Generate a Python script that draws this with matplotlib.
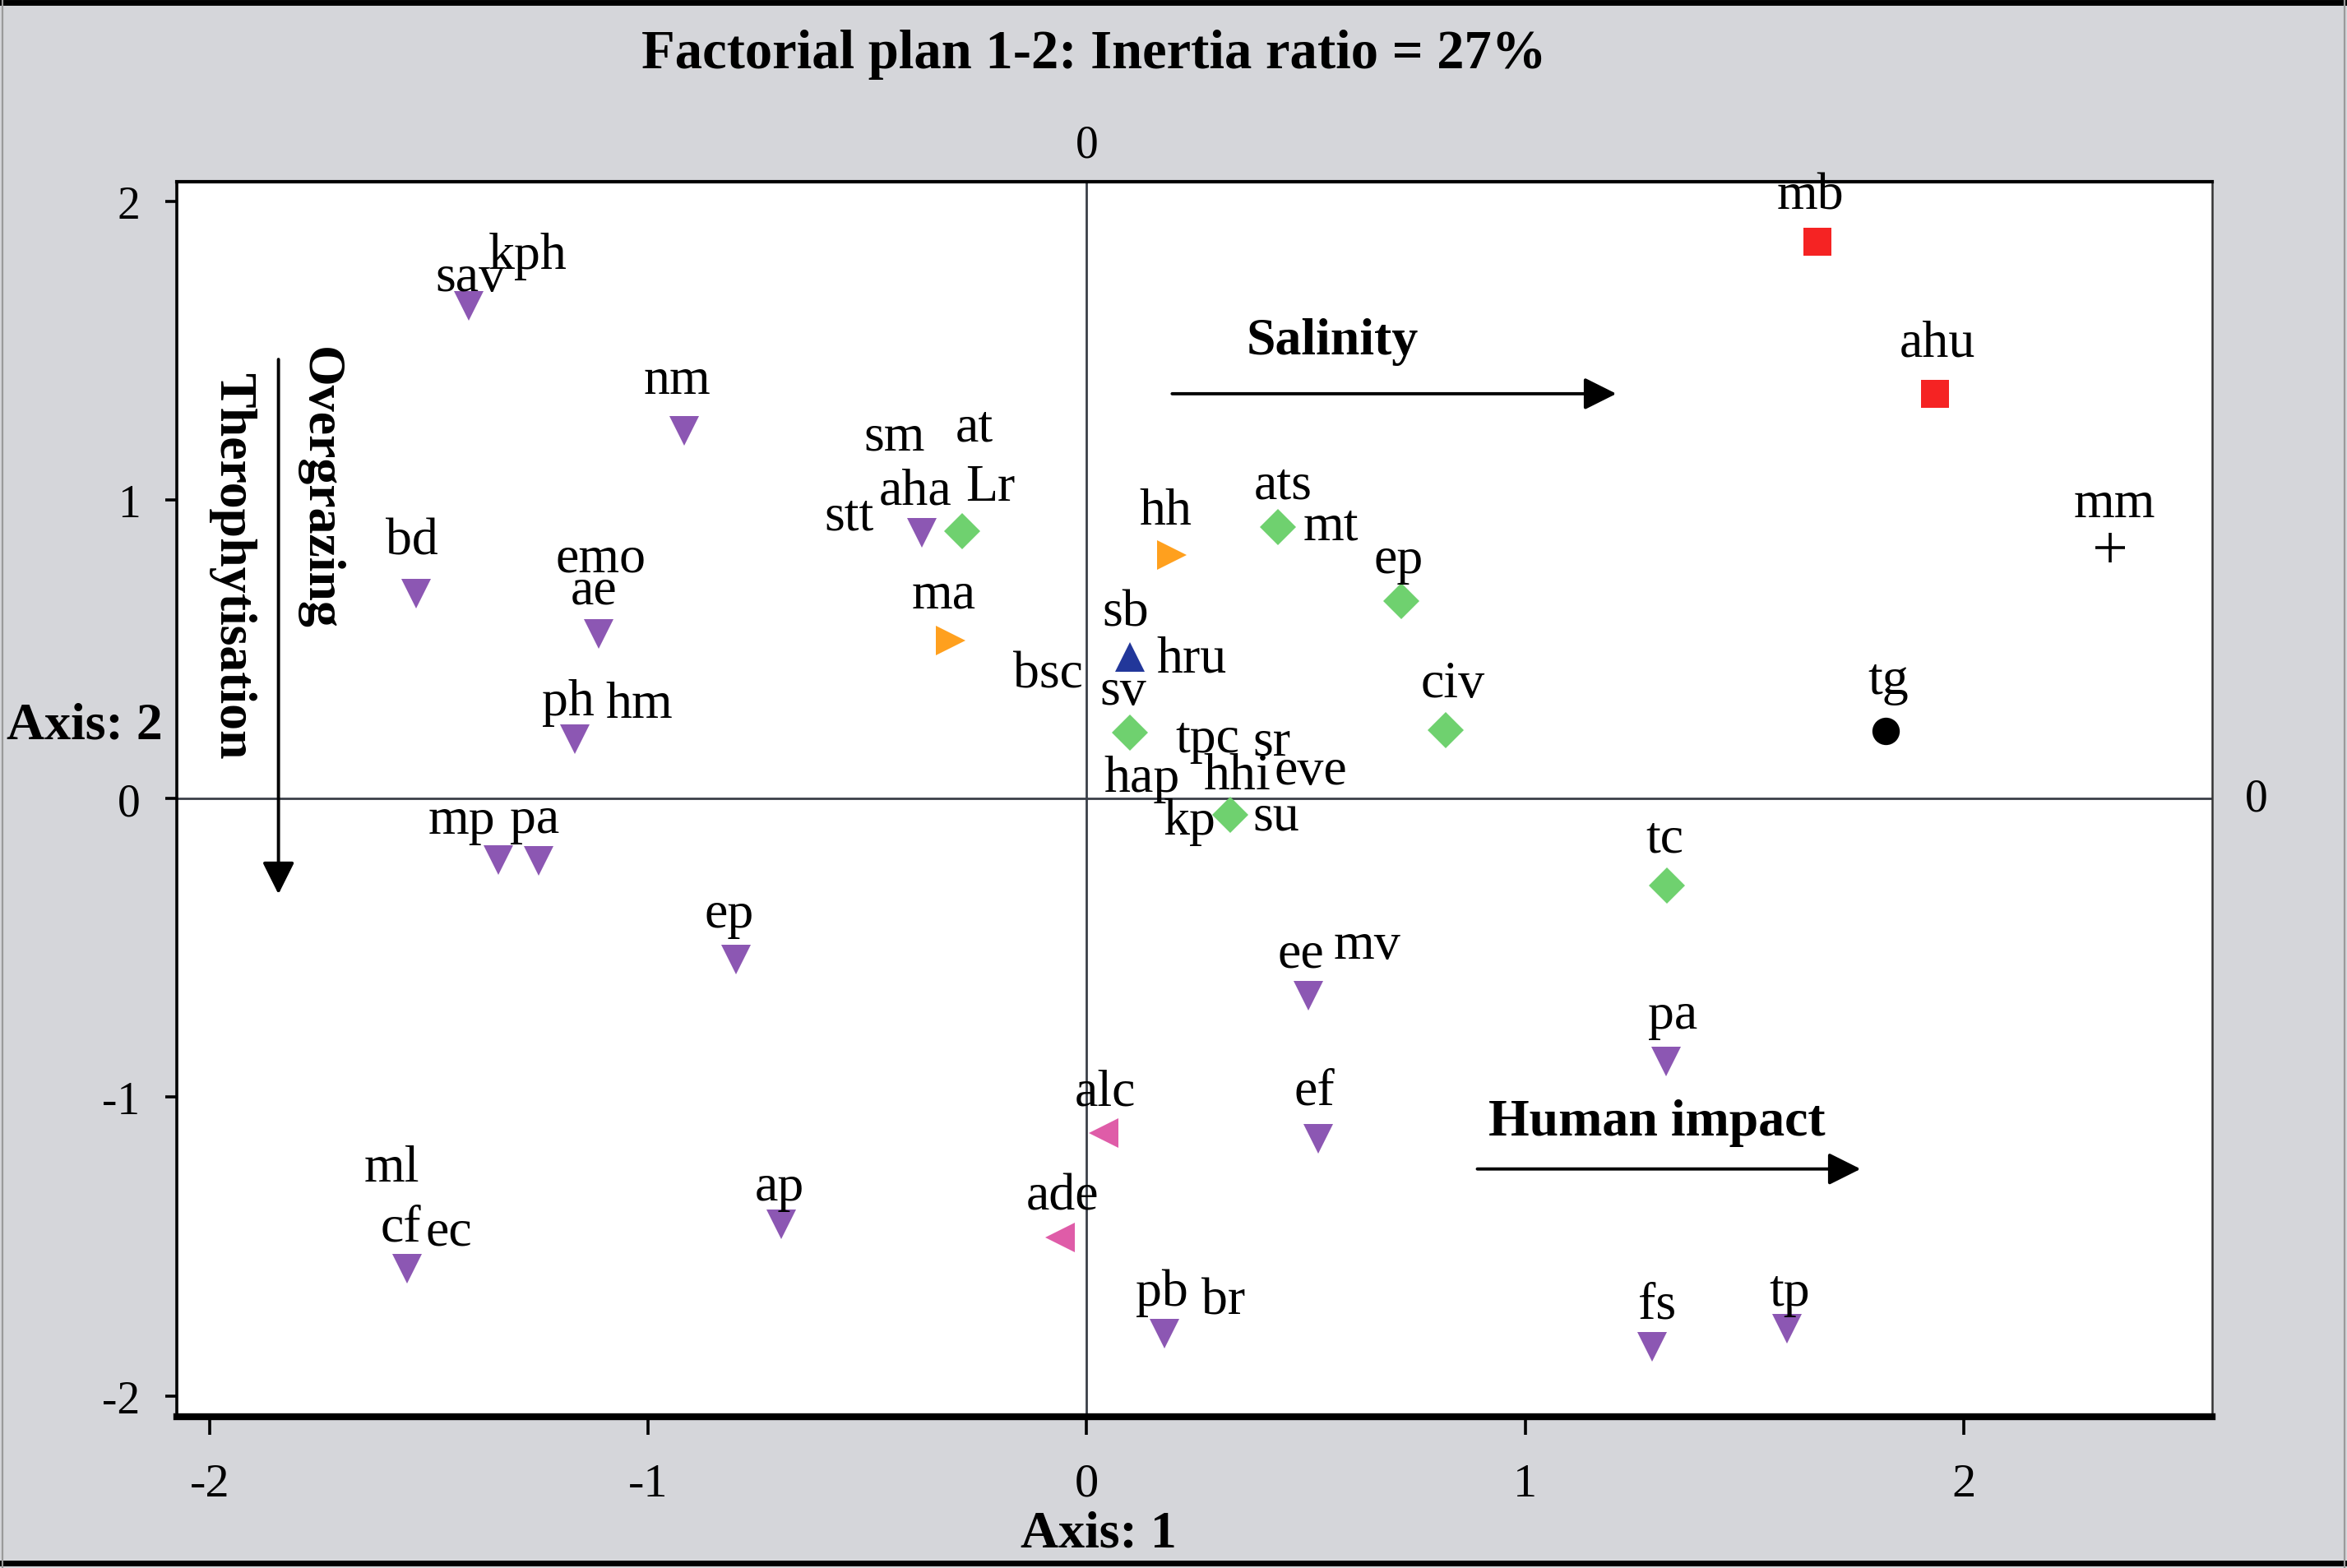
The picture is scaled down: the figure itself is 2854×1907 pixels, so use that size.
import matplotlib.pyplot as plt
from matplotlib.lines import Line2D

plt.rcParams['font.family'] = ['Liberation Serif', 'DejaVu Serif']
plt.rcParams['axes.unicode_minus'] = False

# ---- data: factorial coordinates of species (axis 1, axis 2) ----
purple_x = [-1.41, -0.918, -1.529, -1.113, -1.167, -0.375, -1.341, -1.249, -0.799,
            -1.549, -0.696, 0.505, 0.529, 1.321, 0.177, 1.29, 1.597]
purple_y = [1.65, 1.23, 0.685, 0.55, 0.20, 0.89, -0.205, -0.21, -0.54,
            -1.575, -1.425, -0.66, -1.14, -0.88, -1.79, -1.835, -1.775]
purple_names = [["sav", "kph"], ["nm"], ["bd"], ["emo", "ae"], ["ph", "hm"],
                ["sm", "aha", "stt"], ["mp"], ["pa"], ["ep"], ["ml", "cf", "ec"],
                ["ap"], ["ee", "mv"], ["ef"], ["pa"], ["pb", "br"], ["fs"], ["tp"]]

green_x = [-0.283, 0.437, 0.717, 0.819, 0.099, 0.328, 1.324]
green_y = [0.895, 0.91, 0.66, 0.23, 0.22, -0.055, -0.29]
green_names = [["at", "Lr"], ["ats", "mt"], ["ep"], ["civ"], ["sv", "hap"],
               ["tpc", "sr", "hhi", "eve", "kp", "su"], ["tc"]]

orange_x = [0.195, -0.311]
orange_y = [0.815, 0.53]
orange_names = [["hh"], ["ma"]]

blue_x = [0.099]
blue_y = [0.475]
blue_names = [["sb", "hru", "bsc"]]

pink_x = [0.038, -0.061]
pink_y = [-1.12, -1.47]
pink_names = [["alc"], ["ade"]]

red_x = [1.666, 1.935]
red_y = [1.865, 1.355]
red_names = [["mb"], ["ahu"]]

black_x = [1.823]
black_y = [0.225]
black_names = [["tg"]]

plus_x = [2.334]
plus_y = [0.84]
plus_names = [["mm"]]

x_ticks = [-2, -1, 0, 1, 2]
y_ticks = [-2, -1, 0, 1, 2]

# label offsets (points) from each marker, same order as the names
label_offsets = {
    "purple": [[(1, 12), (26, 22)], [(-3, 22)], [(-2, 23)], [(1, 33), (-2, 19)],
               [(-3, 16), (28, 15)], [(-12, 42), (-3, 18), (-32, 7)], [(-16, 17)],
               [(-2, 18)], [(-3, 20)], [(-7, 44), (-3, 18), (18, 16)], [(-1, 16)],
               [(-3, 18), (26, 22)], [(-2, 21)], [(3, 20)], [(-1, 18), (26, 14)],
               [(2, 18)], [(1, 16)]],
    "green": [[(5, 45), (12, 19)], [(2, 18), (23, 0)], [(-1, 18)], [(3, 20)],
              [(-3, 18), (5, -20)],
              [(-10, 33), (18, 32), (3, 17), (35, 19), (-18, -3), (20, -1)],
              [(-1, 20)]],
    "orange": [[(-3, 19)], [(-3, 20)]],
    "blue": [[(-2, 19), (27, -1), (-36, -8)]],
    "pink": [[(1, 18)], [(1, 18)]],
    "red": [[(-3, 20)], [(1, 22)]],
    "black": [[(1, 22)]],
    "plus": [[(2, 19)]],
}

groups = [
    ("purple", purple_x, purple_y, purple_names, "v", "#8c57b3", 13),
    ("green", green_x, green_y, green_names, "D", "#6fd16f", 11),
    ("orange", orange_x, orange_y, orange_names, ">", "#ffa01e", 13),
    ("blue", blue_x, blue_y, blue_names, "^", "#22379a", 13),
    ("pink", pink_x, pink_y, pink_names, "<", "#df5ca8", 13),
    ("red", red_x, red_y, red_names, "s", "#f52323", 12),
    ("black", black_x, black_y, black_names, "o", "black", 12),
    ("plus", plus_x, plus_y, plus_names, "+", "black", 13),
]

fig = plt.figure(figsize=(14.27, 9.54), dpi=200)
fig.patch.set_facecolor("#d5d6da")
ax = fig.add_axes([0.0753, 0.0963, 0.8673, 0.7874])
ax.set_facecolor("white")

# frame lines of the figure
fig.add_artist(Line2D([0, 1], [0.998, 0.998], color="black", lw=2.5, transform=fig.transFigure))
fig.add_artist(Line2D([0, 1], [0.003, 0.003], color="black", lw=2.5, transform=fig.transFigure))
fig.add_artist(Line2D([0.001, 0.001], [0, 1], color="#9a9a9a", lw=0.8, transform=fig.transFigure))
fig.add_artist(Line2D([0.999, 0.999], [0, 1], color="#9a9a9a", lw=0.8, transform=fig.transFigure))

ax.axhline(0, color="#3a3f48", lw=1.0, zorder=1)
ax.axvline(0, color="#3a3f48", lw=1.0, zorder=1)

for name, xs, ys, names, marker, color, ms in groups:
    if marker == "+":
        ax.plot(xs, ys, linestyle="none", marker=marker, color=color, ms=ms, mew=1.3, zorder=3)
    else:
        ax.plot(xs, ys, linestyle="none", marker=marker, color=color, ms=ms, mew=0, zorder=3)
    for i, labs in enumerate(names):
        for j, lab in enumerate(labs):
            dx, dy = label_offsets[name][i][j]
            ax.annotate(lab, (xs[i], ys[i]), xytext=(dx, dy), textcoords="offset points",
                        ha="center", va="center", fontsize=23, zorder=4)

# gradient arrows
arrow = dict(arrowstyle="-|>", color="black", lw=1.4, mutation_scale=30, shrinkA=0, shrinkB=0)
ax.annotate("", xy=(1.208, 1.355), xytext=(0.195, 1.355), arrowprops=arrow)
ax.text(0.56, 1.53, "Salinity", fontsize=23, fontweight="bold", ha="center", va="center")
ax.annotate("", xy=(1.765, -1.24), xytext=(0.891, -1.24), arrowprops=arrow)
ax.text(1.301, -1.085, "Human impact", fontsize=23, fontweight="bold", ha="center", va="center")
ax.annotate("", xy=(-1.843, -0.32), xytext=(-1.843, 1.47), arrowprops=arrow)
ax.text(-1.751, 1.04, "Overgrazing", fontsize=23, fontweight="bold", rotation=270,
        ha="center", va="center")
ax.text(-1.949, 0.78, "Therophytisation", fontsize=23, fontweight="bold", rotation=270,
        ha="center", va="center")

ax.set_xlim(-2.075, 2.567)
ax.set_ylim(-2.07, 2.065)
ax.set_xticks(x_ticks)
ax.set_yticks(y_ticks)
ax.set_xticklabels([str(t) for t in x_ticks])
ax.set_yticklabels([str(t) for t in y_ticks])
ax.tick_params(axis="x", direction="out", length=8, width=1.3, pad=12, labelsize=21)
ax.tick_params(axis="y", direction="out", length=5, width=1.3, pad=11, labelsize=20)

for side, lw in [("bottom", 3.0), ("left", 1.3), ("top", 1.5), ("right", 0.9)]:
    ax.spines[side].set_linewidth(lw)
    ax.spines[side].set_color("black" if side != "right" else "#333333")

# zero labels on the top and right sides
ax.text(0, 1.012, "0", transform=ax.get_xaxis_transform(), ha="center", va="bottom", fontsize=20)
ax.text(1.016, 0, "0", transform=ax.get_yaxis_transform(), ha="left", va="center", fontsize=20)

fig.text(0.466, 0.965, "Factorial plan 1-2: Inertia ratio = 27%", fontsize=24,
         fontweight="bold", ha="center", va="center")
fig.text(0.036, 0.537, "Axis: 2", fontsize=23, fontweight="bold", ha="center", va="center")
fig.text(0.468, 0.022, "Axis: 1", fontsize=23, fontweight="bold", ha="center", va="center")

fig.savefig("out.png", dpi=200, facecolor=fig.get_facecolor())
